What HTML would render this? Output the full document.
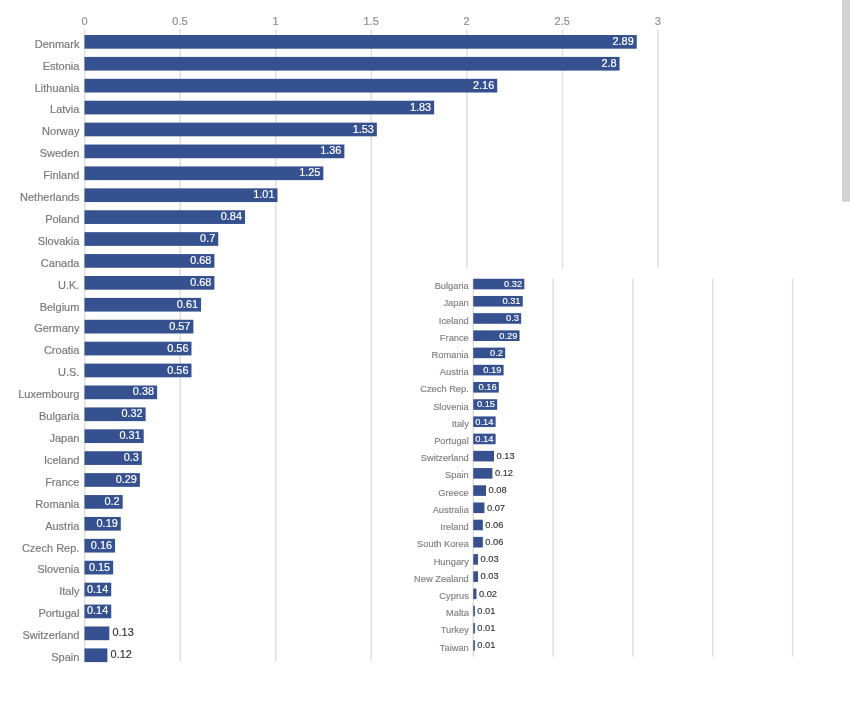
<!DOCTYPE html>
<html><head><meta charset="utf-8"><style>
html,body{margin:0;padding:0;background:#fff;width:850px;height:718px;overflow:hidden}
svg{display:block;will-change:transform}
text{font-family:"Liberation Sans",sans-serif}
.ax{font-size:11px;fill:#909090;stroke:#909090;stroke-width:0.2px}
.lb{font-size:11px;fill:#7a7a7a;stroke:#7a7a7a;stroke-width:0.2px}
.vi{font-size:11.6px;fill:#fff;stroke:#fff;stroke-width:0.2px}
.vo{font-size:11.6px;fill:#363636;stroke:#363636;stroke-width:0.2px}
.ilb{font-size:9.3px;fill:#808080;stroke:#808080;stroke-width:0.15px}
.ivi{font-size:9.3px;fill:#fff;stroke:#fff;stroke-width:0.15px}
.ivo{font-size:9.3px;fill:#363636;stroke:#363636;stroke-width:0.15px}
</style></head><body>
<svg width="850" height="718" viewBox="0 0 850 718">
<rect x="0" y="0" width="850" height="718" fill="#fff"/>
<rect x="83.92" y="29.50" width="1.50" height="632.10" fill="#e0e0e0"/>
<rect x="179.47" y="29.50" width="1.50" height="632.10" fill="#e0e0e0"/>
<rect x="275.02" y="29.50" width="1.50" height="632.10" fill="#e0e0e0"/>
<rect x="370.57" y="29.50" width="1.50" height="632.10" fill="#e0e0e0"/>
<rect x="466.12" y="29.50" width="1.50" height="238.50" fill="#e0e0e0"/>
<rect x="561.67" y="29.50" width="1.50" height="238.50" fill="#e0e0e0"/>
<rect x="657.22" y="29.50" width="1.50" height="238.50" fill="#e0e0e0"/>
<rect x="84.47" y="35.00" width="552.28" height="13.70" fill="#36518f"/>
<rect x="84.47" y="56.91" width="535.08" height="13.70" fill="#36518f"/>
<rect x="84.47" y="78.81" width="412.78" height="13.70" fill="#36518f"/>
<rect x="84.47" y="100.72" width="349.71" height="13.70" fill="#36518f"/>
<rect x="84.47" y="122.63" width="292.38" height="13.70" fill="#36518f"/>
<rect x="84.47" y="144.53" width="259.90" height="13.70" fill="#36518f"/>
<rect x="84.47" y="166.44" width="238.88" height="13.70" fill="#36518f"/>
<rect x="84.47" y="188.35" width="193.01" height="13.70" fill="#36518f"/>
<rect x="84.47" y="210.26" width="160.52" height="13.70" fill="#36518f"/>
<rect x="84.47" y="232.16" width="133.77" height="13.70" fill="#36518f"/>
<rect x="84.47" y="254.07" width="129.95" height="13.70" fill="#36518f"/>
<rect x="84.47" y="275.98" width="129.95" height="13.70" fill="#36518f"/>
<rect x="84.47" y="297.88" width="116.57" height="13.70" fill="#36518f"/>
<rect x="84.47" y="319.79" width="108.93" height="13.70" fill="#36518f"/>
<rect x="84.47" y="341.70" width="107.02" height="13.70" fill="#36518f"/>
<rect x="84.47" y="363.61" width="107.02" height="13.70" fill="#36518f"/>
<rect x="84.47" y="385.51" width="72.62" height="13.70" fill="#36518f"/>
<rect x="84.47" y="407.42" width="61.15" height="13.70" fill="#36518f"/>
<rect x="84.47" y="429.33" width="59.24" height="13.70" fill="#36518f"/>
<rect x="84.47" y="451.23" width="57.33" height="13.70" fill="#36518f"/>
<rect x="84.47" y="473.14" width="55.42" height="13.70" fill="#36518f"/>
<rect x="84.47" y="495.05" width="38.22" height="13.70" fill="#36518f"/>
<rect x="84.47" y="516.95" width="36.31" height="13.70" fill="#36518f"/>
<rect x="84.47" y="538.86" width="30.58" height="13.70" fill="#36518f"/>
<rect x="84.47" y="560.77" width="28.66" height="13.70" fill="#36518f"/>
<rect x="84.47" y="582.67" width="26.75" height="13.70" fill="#36518f"/>
<rect x="84.47" y="604.58" width="26.75" height="13.70" fill="#36518f"/>
<rect x="84.47" y="626.49" width="24.84" height="13.70" fill="#36518f"/>
<rect x="84.47" y="648.40" width="22.93" height="13.70" fill="#36518f"/>
<rect x="472.50" y="278.50" width="1.50" height="378.20" fill="#e0e0e0"/>
<rect x="552.35" y="278.50" width="1.50" height="378.20" fill="#e0e0e0"/>
<rect x="632.20" y="278.50" width="1.50" height="378.20" fill="#e0e0e0"/>
<rect x="712.05" y="278.50" width="1.50" height="378.20" fill="#e0e0e0"/>
<rect x="791.90" y="278.50" width="1.50" height="378.20" fill="#e0e0e0"/>
<rect x="473.25" y="278.75" width="51.10" height="10.60" fill="#36518f"/>
<rect x="473.25" y="295.96" width="49.51" height="10.60" fill="#36518f"/>
<rect x="473.25" y="313.17" width="47.91" height="10.60" fill="#36518f"/>
<rect x="473.25" y="330.38" width="46.31" height="10.60" fill="#36518f"/>
<rect x="473.25" y="347.59" width="31.94" height="10.60" fill="#36518f"/>
<rect x="473.25" y="364.80" width="30.34" height="10.60" fill="#36518f"/>
<rect x="473.25" y="382.01" width="25.55" height="10.60" fill="#36518f"/>
<rect x="473.25" y="399.22" width="23.95" height="10.60" fill="#36518f"/>
<rect x="473.25" y="416.43" width="22.36" height="10.60" fill="#36518f"/>
<rect x="473.25" y="433.64" width="22.36" height="10.60" fill="#36518f"/>
<rect x="473.25" y="450.85" width="20.76" height="10.60" fill="#36518f"/>
<rect x="473.25" y="468.06" width="19.16" height="10.60" fill="#36518f"/>
<rect x="473.25" y="485.27" width="12.78" height="10.60" fill="#36518f"/>
<rect x="473.25" y="502.48" width="11.18" height="10.60" fill="#36518f"/>
<rect x="473.25" y="519.69" width="9.58" height="10.60" fill="#36518f"/>
<rect x="473.25" y="536.90" width="9.58" height="10.60" fill="#36518f"/>
<rect x="473.25" y="554.11" width="4.79" height="10.60" fill="#36518f"/>
<rect x="473.25" y="571.32" width="4.79" height="10.60" fill="#36518f"/>
<rect x="473.25" y="588.53" width="3.19" height="10.60" fill="#36518f"/>
<rect x="473.25" y="605.74" width="1.60" height="10.60" fill="#36518f"/>
<rect x="473.25" y="622.95" width="1.60" height="10.60" fill="#36518f"/>
<rect x="473.25" y="640.16" width="1.60" height="10.60" fill="#36518f"/>
<rect x="842.00" y="0.00" width="8.00" height="201.70" fill="#d2d2d2"/>
<text x="84.47" y="24.90" class="ax" text-anchor="middle">0</text>
<text x="180.02" y="24.90" class="ax" text-anchor="middle">0.5</text>
<text x="275.57" y="24.90" class="ax" text-anchor="middle">1</text>
<text x="371.12" y="24.90" class="ax" text-anchor="middle">1.5</text>
<text x="466.67" y="24.90" class="ax" text-anchor="middle">2</text>
<text x="562.22" y="24.90" class="ax" text-anchor="middle">2.5</text>
<text x="657.77" y="24.90" class="ax" text-anchor="middle">3</text>
<text x="79.40" y="47.70" class="lb" text-anchor="end">Denmark</text>
<text x="633.75" y="44.90" class="vi" text-anchor="end" textLength="21.22" lengthAdjust="spacingAndGlyphs">2.89</text>
<text x="79.40" y="69.61" class="lb" text-anchor="end">Estonia</text>
<text x="616.55" y="66.81" class="vi" text-anchor="end" textLength="15.16" lengthAdjust="spacingAndGlyphs">2.8</text>
<text x="79.40" y="91.51" class="lb" text-anchor="end">Lithuania</text>
<text x="494.25" y="88.71" class="vi" text-anchor="end" textLength="21.22" lengthAdjust="spacingAndGlyphs">2.16</text>
<text x="79.40" y="113.42" class="lb" text-anchor="end">Latvia</text>
<text x="431.18" y="110.62" class="vi" text-anchor="end" textLength="21.22" lengthAdjust="spacingAndGlyphs">1.83</text>
<text x="79.40" y="135.33" class="lb" text-anchor="end">Norway</text>
<text x="373.85" y="132.53" class="vi" text-anchor="end" textLength="21.22" lengthAdjust="spacingAndGlyphs">1.53</text>
<text x="79.40" y="157.23" class="lb" text-anchor="end">Sweden</text>
<text x="341.37" y="154.44" class="vi" text-anchor="end" textLength="21.22" lengthAdjust="spacingAndGlyphs">1.36</text>
<text x="79.40" y="179.14" class="lb" text-anchor="end">Finland</text>
<text x="320.35" y="176.34" class="vi" text-anchor="end" textLength="21.22" lengthAdjust="spacingAndGlyphs">1.25</text>
<text x="79.40" y="201.05" class="lb" text-anchor="end">Netherlands</text>
<text x="274.48" y="198.25" class="vi" text-anchor="end" textLength="21.22" lengthAdjust="spacingAndGlyphs">1.01</text>
<text x="79.40" y="222.96" class="lb" text-anchor="end">Poland</text>
<text x="241.99" y="220.16" class="vi" text-anchor="end" textLength="21.22" lengthAdjust="spacingAndGlyphs">0.84</text>
<text x="79.40" y="244.86" class="lb" text-anchor="end">Slovakia</text>
<text x="215.24" y="242.06" class="vi" text-anchor="end" textLength="15.16" lengthAdjust="spacingAndGlyphs">0.7</text>
<text x="79.40" y="266.77" class="lb" text-anchor="end">Canada</text>
<text x="211.42" y="263.97" class="vi" text-anchor="end" textLength="21.22" lengthAdjust="spacingAndGlyphs">0.68</text>
<text x="79.40" y="288.68" class="lb" text-anchor="end">U.K.</text>
<text x="211.42" y="285.88" class="vi" text-anchor="end" textLength="21.22" lengthAdjust="spacingAndGlyphs">0.68</text>
<text x="79.40" y="310.58" class="lb" text-anchor="end">Belgium</text>
<text x="198.04" y="307.78" class="vi" text-anchor="end" textLength="21.22" lengthAdjust="spacingAndGlyphs">0.61</text>
<text x="79.40" y="332.49" class="lb" text-anchor="end">Germany</text>
<text x="190.40" y="329.69" class="vi" text-anchor="end" textLength="21.22" lengthAdjust="spacingAndGlyphs">0.57</text>
<text x="79.40" y="354.40" class="lb" text-anchor="end">Croatia</text>
<text x="188.49" y="351.60" class="vi" text-anchor="end" textLength="21.22" lengthAdjust="spacingAndGlyphs">0.56</text>
<text x="79.40" y="376.31" class="lb" text-anchor="end">U.S.</text>
<text x="188.49" y="373.50" class="vi" text-anchor="end" textLength="21.22" lengthAdjust="spacingAndGlyphs">0.56</text>
<text x="79.40" y="398.21" class="lb" text-anchor="end">Luxembourg</text>
<text x="154.09" y="395.41" class="vi" text-anchor="end" textLength="21.22" lengthAdjust="spacingAndGlyphs">0.38</text>
<text x="79.40" y="420.12" class="lb" text-anchor="end">Bulgaria</text>
<text x="142.62" y="417.32" class="vi" text-anchor="end" textLength="21.22" lengthAdjust="spacingAndGlyphs">0.32</text>
<text x="79.40" y="442.03" class="lb" text-anchor="end">Japan</text>
<text x="140.71" y="439.23" class="vi" text-anchor="end" textLength="21.22" lengthAdjust="spacingAndGlyphs">0.31</text>
<text x="79.40" y="463.93" class="lb" text-anchor="end">Iceland</text>
<text x="138.80" y="461.13" class="vi" text-anchor="end" textLength="15.16" lengthAdjust="spacingAndGlyphs">0.3</text>
<text x="79.40" y="485.84" class="lb" text-anchor="end">France</text>
<text x="136.89" y="483.04" class="vi" text-anchor="end" textLength="21.22" lengthAdjust="spacingAndGlyphs">0.29</text>
<text x="79.40" y="507.75" class="lb" text-anchor="end">Romania</text>
<text x="119.69" y="504.95" class="vi" text-anchor="end" textLength="15.16" lengthAdjust="spacingAndGlyphs">0.2</text>
<text x="79.40" y="529.65" class="lb" text-anchor="end">Austria</text>
<text x="117.78" y="526.85" class="vi" text-anchor="end" textLength="21.22" lengthAdjust="spacingAndGlyphs">0.19</text>
<text x="79.40" y="551.56" class="lb" text-anchor="end">Czech Rep.</text>
<text x="112.05" y="548.76" class="vi" text-anchor="end" textLength="21.22" lengthAdjust="spacingAndGlyphs">0.16</text>
<text x="79.40" y="573.47" class="lb" text-anchor="end">Slovenia</text>
<text x="110.13" y="570.67" class="vi" text-anchor="end" textLength="21.22" lengthAdjust="spacingAndGlyphs">0.15</text>
<text x="79.40" y="595.38" class="lb" text-anchor="end">Italy</text>
<text x="108.22" y="592.57" class="vi" text-anchor="end" textLength="21.22" lengthAdjust="spacingAndGlyphs">0.14</text>
<text x="79.40" y="617.28" class="lb" text-anchor="end">Portugal</text>
<text x="108.22" y="614.48" class="vi" text-anchor="end" textLength="21.22" lengthAdjust="spacingAndGlyphs">0.14</text>
<text x="79.40" y="639.19" class="lb" text-anchor="end">Switzerland</text>
<text x="112.51" y="636.39" class="vo" textLength="21.22" lengthAdjust="spacingAndGlyphs">0.13</text>
<text x="79.40" y="661.10" class="lb" text-anchor="end">Spain</text>
<text x="110.60" y="658.30" class="vo" textLength="21.22" lengthAdjust="spacingAndGlyphs">0.12</text>
<text x="468.80" y="289.15" class="ilb" text-anchor="end">Bulgaria</text>
<text x="522.15" y="286.90" class="ivi" text-anchor="end">0.32</text>
<text x="468.80" y="306.36" class="ilb" text-anchor="end">Japan</text>
<text x="520.56" y="304.11" class="ivi" text-anchor="end">0.31</text>
<text x="468.80" y="323.57" class="ilb" text-anchor="end">Iceland</text>
<text x="518.96" y="321.32" class="ivi" text-anchor="end">0.3</text>
<text x="468.80" y="340.78" class="ilb" text-anchor="end">France</text>
<text x="517.36" y="338.53" class="ivi" text-anchor="end">0.29</text>
<text x="468.80" y="357.99" class="ilb" text-anchor="end">Romania</text>
<text x="502.99" y="355.74" class="ivi" text-anchor="end">0.2</text>
<text x="468.80" y="375.20" class="ilb" text-anchor="end">Austria</text>
<text x="501.39" y="372.95" class="ivi" text-anchor="end">0.19</text>
<text x="468.80" y="392.41" class="ilb" text-anchor="end">Czech Rep.</text>
<text x="496.60" y="390.16" class="ivi" text-anchor="end">0.16</text>
<text x="468.80" y="409.62" class="ilb" text-anchor="end">Slovenia</text>
<text x="495.00" y="407.37" class="ivi" text-anchor="end">0.15</text>
<text x="468.80" y="426.83" class="ilb" text-anchor="end">Italy</text>
<text x="493.41" y="424.58" class="ivi" text-anchor="end">0.14</text>
<text x="468.80" y="444.04" class="ilb" text-anchor="end">Portugal</text>
<text x="493.41" y="441.79" class="ivi" text-anchor="end">0.14</text>
<text x="468.80" y="461.25" class="ilb" text-anchor="end">Switzerland</text>
<text x="496.51" y="459.00" class="ivo">0.13</text>
<text x="468.80" y="478.46" class="ilb" text-anchor="end">Spain</text>
<text x="494.91" y="476.21" class="ivo">0.12</text>
<text x="468.80" y="495.67" class="ilb" text-anchor="end">Greece</text>
<text x="488.53" y="493.42" class="ivo">0.08</text>
<text x="468.80" y="512.88" class="ilb" text-anchor="end">Australia</text>
<text x="486.93" y="510.63" class="ivo">0.07</text>
<text x="468.80" y="530.09" class="ilb" text-anchor="end">Ireland</text>
<text x="485.33" y="527.84" class="ivo">0.06</text>
<text x="468.80" y="547.30" class="ilb" text-anchor="end">South Korea</text>
<text x="485.33" y="545.05" class="ivo">0.06</text>
<text x="468.80" y="564.51" class="ilb" text-anchor="end">Hungary</text>
<text x="480.54" y="562.26" class="ivo">0.03</text>
<text x="468.80" y="581.72" class="ilb" text-anchor="end">New Zealand</text>
<text x="480.54" y="579.47" class="ivo">0.03</text>
<text x="468.80" y="598.93" class="ilb" text-anchor="end">Cyprus</text>
<text x="478.94" y="596.68" class="ivo">0.02</text>
<text x="468.80" y="616.14" class="ilb" text-anchor="end">Malta</text>
<text x="477.35" y="613.89" class="ivo">0.01</text>
<text x="468.80" y="633.35" class="ilb" text-anchor="end">Turkey</text>
<text x="477.35" y="631.10" class="ivo">0.01</text>
<text x="468.80" y="650.56" class="ilb" text-anchor="end">Taiwan</text>
<text x="477.35" y="648.31" class="ivo">0.01</text>
</svg>
</body></html>
